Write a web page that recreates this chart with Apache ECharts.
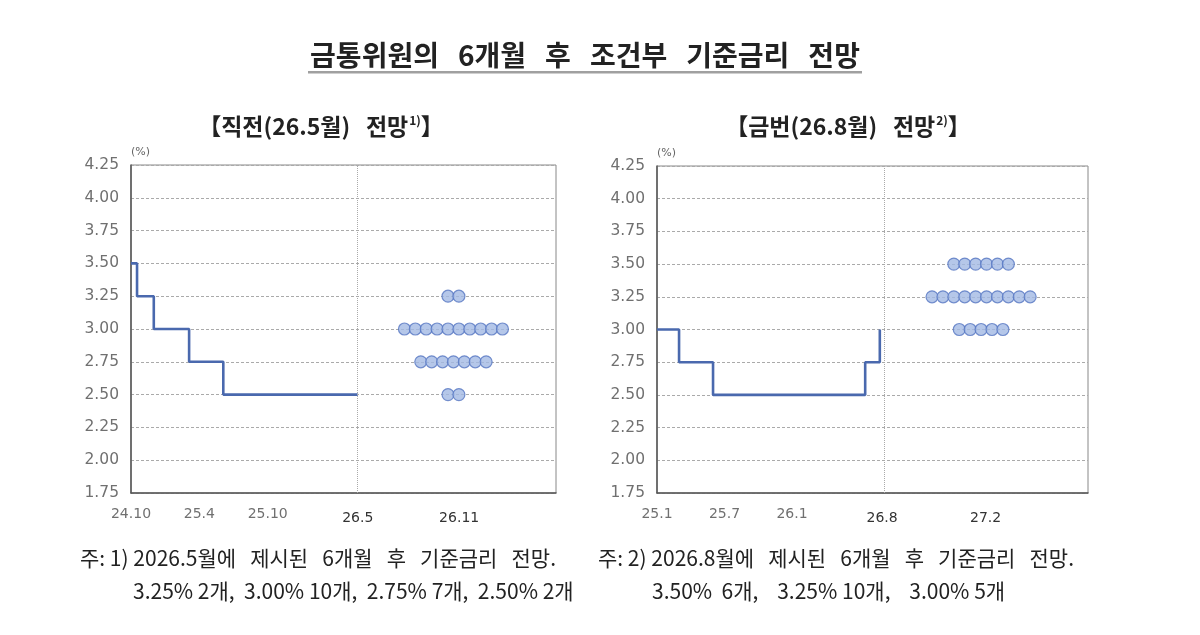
<!DOCTYPE html>
<html><head><meta charset="utf-8">
<script src="https://cdn.jsdelivr.net/npm/echarts@6/dist/echarts.min.js"></script>
<style>html,body{margin:0;padding:0;background:#fff}#c{width:1200px;height:635px}</style>
</head><body><div id="c"></div>
<script>
// ---- Data ----
const yTicks = [1.75, 2.00, 2.25, 2.50, 2.75, 3.00, 3.25, 3.50, 3.75, 4.00, 4.25];

// Left panel: months since 2024.10
const leftPath = [[0, 3.50], [0.53, 3.25], [2.0, 3.00], [5.1, 2.75], [8.1, 2.50], [19.9, 2.50]];
const leftTickValues = [0, 6, 12, 19.9, 28.8];
const leftTickLabels = ['24.10', '25.4', '25.10', '26.5', '26.11'];
const leftRates = [3.25, 3.00, 2.75, 2.50];
const leftCounts = [2, 10, 7, 2];

// Right panel: months since 2025.1
const rightPath = [[0, 3.00], [1.96, 2.75], [4.98, 2.50], [18.5, 2.75], [19.8, 3.00]];
const rightTickValues = [0, 6, 12, 20.0, 29.2];
const rightTickLabels = ['25.1', '25.7', '26.1', '26.8', '27.2'];
const rightRates = [3.50, 3.25, 3.00];
const rightCounts = [6, 10, 5];

// ---- Layout parameters ----
const L = {xMax: 37.3, divider: 19.9, dotCenter: 28.3, dotStep: 0.956};
const R = {xMax: 38.3, divider: 20.2, dotCenter: 28.8, dotStep: 0.969};

function dots(rates, counts, center, step) {
  const out = [];
  rates.forEach((r, i) => {
    const n = counts[i];
    for (let k = 0; k < n; k++) out.push([center + (k - (n - 1) / 2) * step, r]);
  });
  return out;
}

const lineColor = '#4a69ae';
const labelFont = 'DejaVu Sans';

function xAxisCfg(idx, max, vals, labels, darkSet) {
  return {
    gridIndex: idx, type: 'value', min: 0, max: max,
    axisLine: {show: true, lineStyle: {color: '#555', width: 1.5}},
    axisTick: {show: false},
    splitLine: {show: false},
    axisLabel: {
      customValues: vals, margin: 14, color: '#707070', fontSize: 14, fontFamily: labelFont,
      formatter: function (v) {
        let i = vals.findIndex(t => Math.abs(t - v) < 1e-6);
        if (i < 0) return '';
        return darkSet.indexOf(i) >= 0 ? '{d|' + labels[i] + '}' : labels[i];
      },
      rich: {d: {color: '#333', fontSize: 14, fontFamily: labelFont, padding: [4, 0, 0, 0]}}
    }
  };
}
function yAxisCfg(idx) {
  return {
    gridIndex: idx, type: 'value', min: 1.75, max: 4.25, interval: 0.25,
    name: '(%)', nameLocation: 'end', nameGap: 13,
    nameTextStyle: {align: 'left', verticalAlign: 'middle', color: '#666', fontSize: 11, fontFamily: labelFont},
    axisLine: {show: true, lineStyle: {color: '#555', width: 1.5}},
    axisTick: {show: false},
    splitLine: {show: true, lineStyle: {color: '#aaa', type: [3, 2], width: 1}},
    axisLabel: {
      customValues: yTicks, margin: 12, color: '#707070', fontSize: 15.5, fontFamily: labelFont,
      formatter: v => v.toFixed(2)
    }
  };
}
const dotStyle = {color: '#a3b9e4', borderColor: '#5576c2', borderWidth: 1.2};
const divLine = d => ({
  silent: true, symbol: ['none', 'none'], label: {show: false},
  lineStyle: {color: '#aaa', type: 'dotted', width: 1}, data: [{xAxis: d}]
});
const subRich = {
  b: {font: 'bold 23px "Noto Sans CJK KR"', fill: '#222'},
  s: {font: 'bold 12px "Noto Sans CJK KR"', fill: '#222', verticalAlign: 'top', padding: [0, 0, 11, 1]}
};
const noteFont = '21px "Noto Sans CJK KR"';

const chart = echarts.init(document.getElementById('c'), null, {renderer: 'canvas'});
chart.setOption({
  animation: false,
  backgroundColor: '#fff',
  grid: [
    {left: 131, right: 644, top: 165, bottom: 142, show: true, borderColor: '#888', borderWidth: 1},
    {left: 657, right: 112, top: 166, bottom: 142, show: true, borderColor: '#888', borderWidth: 1}
  ],
  xAxis: [
    xAxisCfg(0, L.xMax, leftTickValues, leftTickLabels, [3, 4]),
    xAxisCfg(1, R.xMax, rightTickValues, rightTickLabels, [3, 4])
  ],
  yAxis: [yAxisCfg(0), yAxisCfg(1)],
  series: [
    {type: 'line', xAxisIndex: 0, yAxisIndex: 0, data: leftPath, step: 'end', symbol: 'none',
     lineStyle: {color: lineColor, width: 2.6}, markLine: divLine(L.divider), z: 3},
    {type: 'scatter', xAxisIndex: 0, yAxisIndex: 0, data: dots(leftRates, leftCounts, L.dotCenter, L.dotStep),
     symbolSize: 12, itemStyle: dotStyle, z: 4},
    {type: 'line', xAxisIndex: 1, yAxisIndex: 1, data: rightPath, step: 'end', symbol: 'none',
     lineStyle: {color: lineColor, width: 2.6}, markLine: divLine(R.divider), z: 3},
    {type: 'scatter', xAxisIndex: 1, yAxisIndex: 1, data: dots(rightRates, rightCounts, R.dotCenter, R.dotStep),
     symbolSize: 12, itemStyle: dotStyle, z: 4}
  ],
  graphic: [
    {type: 'text', x: 585, y: 55,
     style: {text: '금통위원의   6개월   후   조건부   기준금리   전망', font: 'bold 28px "Noto Sans CJK KR"', fill: '#222',
       align: 'center', verticalAlign: 'middle'}},
    {type: 'rect', shape: {x: 308, y: 71, width: 554, height: 2.5}, style: {fill: '#a0a0a0'}},
    {type: 'text', x: 321, y: 126,
     style: {text: '{b|【직전(26.5월)   전망}{s|1)}{b|】}', align: 'center', verticalAlign: 'middle', rich: subRich}},
    {type: 'text', x: 848, y: 126,
     style: {text: '{b|【금번(26.8월)   전망}{s|2)}{b|】}', align: 'center', verticalAlign: 'middle', rich: subRich}},
    {type: 'text', x: 80, y: 558,
     style: {text: '주: 1) 2026.5월에   제시된   6개월   후   기준금리   전망.', font: noteFont, fill: '#222', verticalAlign: 'middle'}},
    {type: 'text', x: 133, y: 591,
     style: {text: '3.25% 2개,  3.00% 10개,  2.75% 7개,  2.50% 2개', font: noteFont, fill: '#222', verticalAlign: 'middle'}},
    {type: 'text', x: 598, y: 558,
     style: {text: '주: 2) 2026.8월에   제시된   6개월   후   기준금리   전망.', font: noteFont, fill: '#222', verticalAlign: 'middle'}},
    {type: 'text', x: 652, y: 591,
     style: {text: '3.50%  6개,    3.25% 10개,    3.00% 5개', font: noteFont, fill: '#222', verticalAlign: 'middle'}}
  ]
});
</script>
</body></html>
